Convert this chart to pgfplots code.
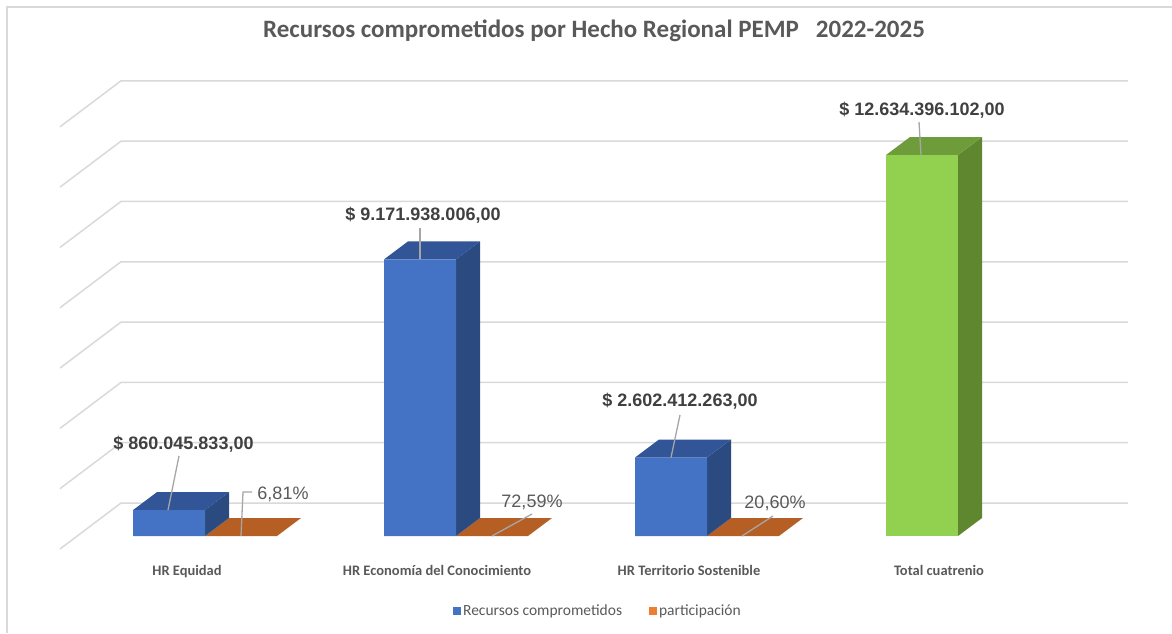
\documentclass[border=0pt]{standalone}
\usepackage{fontspec}
\setmainfont{Carlito}
\newfontfamily\arialfont{Liberation Sans}
\usepackage{pgfplots}
\pgfplotsset{compat=1.18}
\definecolor{blueF}{HTML}{4472C4}
\definecolor{blueS}{HTML}{2A4A80}
\definecolor{blueT}{HTML}{325597}
\definecolor{greenF}{HTML}{92D050}
\definecolor{greenS}{HTML}{5E8730}
\definecolor{greenT}{HTML}{6F9C3A}
\definecolor{orangeF}{HTML}{B55F24}
\definecolor{orangeL}{HTML}{ED7D31}
\definecolor{gridc}{HTML}{D9D9D9}
\definecolor{leader}{HTML}{A6A6A6}
\definecolor{txt}{HTML}{595959}
\definecolor{lbl}{HTML}{404040}
\begin{document}
\begin{tikzpicture}[x=1pt,y=1pt]
\path[use as bounding box] (0,0) rectangle (1172,633);
\draw[gridc,line width=1.5pt] (7,0) -- (7,626) -- (1172,626);
\begin{axis}[
    at={(60pt,97pt)},
    anchor=south west,
    scale only axis,
    width=1068pt,
    height=455pt,
    xmin=60, xmax=1128,
    ymin=0, ymax=15088320975,
    clip=false,
    axis line style={draw=none},
    major tick length=0pt,
    ytick=\empty,
    xtick={187,437,689,939},
    xticklabels={HR Equidad,HR Economía del Conocimiento,HR Territorio Sostenible,Total  cuatrenio},
    xticklabel style={anchor=base,yshift=-39pt,font=\fontsize{14.5}{16}\selectfont\bfseries,text=txt},
    title={Recursos comprometidos por Hecho Regional PEMP\ \ \ 2022-2025},
    title style={at={(axis description cs:0.5,1.0967)},anchor=center,font=\fontsize{25}{28}\selectfont\bfseries,text=txt},
    legend style={at={(axis description cs:0.5037,-0.165)},anchor=center,draw=none,fill=none,
        legend columns=2,font=\fontsize{15.5}{18}\selectfont,text=txt,
        /tikz/every even column/.append style={column sep=25pt}},
    legend image code/.code={\fill[#1] (0pt,-4pt) rectangle (8pt,4pt);},
]
% wall grid, 2e9 steps, shifted for the 3d depth
\addplot[gridc,line width=1.5pt,forget plot,unbounded coords=jump] coordinates {
    (60,-431094885) (121,1094317785) (1128,1094317785) (60,nan)
    (60,1568905115) (121,3094317785) (1128,3094317785) (60,nan)
    (60,3568905115) (121,5094317785) (1128,5094317785) (60,nan)
    (60,5568905115) (121,7094317785) (1128,7094317785) (60,nan)
    (60,7568905115) (121,9094317785) (1128,9094317785) (60,nan)
    (60,9568905115) (121,11094317785) (1128,11094317785) (60,nan)
    (60,11568905115) (121,13094317785) (1128,13094317785) (60,nan)
    (60,13568905115) (121,15094317785) (1128,15094317785)
};
% participacion, flat on the floor
\addplot[fill=orangeF,draw=none,forget plot] coordinates {(205,0) (277,0) (301,596900610) (229,596900610)} -- cycle;
\addplot[fill=orangeF,draw=none,forget plot] coordinates {(456,0) (528,0) (552,596900610) (480,596900610)} -- cycle;
\addplot[fill=orangeF,draw=none,forget plot] coordinates {(707,0) (779,0) (803,596900610) (731,596900610)} -- cycle;
% side faces
\addplot[fill=blueS,draw=none,forget plot] coordinates {(205,0) (229,596900610) (229,1456946443) (205,860045833)} -- cycle;
\addplot[fill=blueS,draw=none,forget plot] coordinates {(456,0) (480,596900610) (480,9768838616) (456,9171938006)} -- cycle;
\addplot[fill=blueS,draw=none,forget plot] coordinates {(707,0) (731,596900610) (731,3199312873) (707,2602412263)} -- cycle;
\addplot[fill=greenS,draw=none,forget plot] coordinates {(958,0) (982,596900610) (982,13231296712) (958,12634396102)} -- cycle;
% top faces
\addplot[fill=blueT,draw=none,forget plot] coordinates {(133,860045833) (205,860045833) (229,1456946443) (157,1456946443)} -- cycle;
\addplot[fill=blueT,draw=none,forget plot] coordinates {(384,9171938006) (456,9171938006) (480,9768838616) (408,9768838616)} -- cycle;
\addplot[fill=blueT,draw=none,forget plot] coordinates {(635,2602412263) (707,2602412263) (731,3199312873) (659,3199312873)} -- cycle;
\addplot[fill=greenT,draw=none,forget plot] coordinates {(886,12634396102) (958,12634396102) (982,13231296712) (910,13231296712)} -- cycle;
% front faces
\addplot[ybar,bar width=72pt,bar shift=0pt,fill=blueF,draw=none,forget plot] coordinates {(169,860045833) (420,9171938006) (671,2602412263)};
\addplot[ybar,bar width=72pt,bar shift=0pt,fill=greenF,draw=none,forget plot] coordinates {(922,12634396102)};
% leader lines
\addplot[leader,line width=1.3pt,forget plot] coordinates {(168,860045833) (179,2652891600)};
\addplot[leader,line width=1.3pt,forget plot] coordinates {(420,9171938006) (420,10213632660)};
\addplot[leader,line width=1.3pt,forget plot] coordinates {(671,2602412263) (680,4012498545)};
\addplot[leader,line width=1.3pt,forget plot] coordinates {(921,12634396102) (919,13728714030)};
\addplot[leader,line width=1.3pt,forget plot] coordinates {(241,0) (243,1459090380) (252,1459090380)};
\addplot[leader,line width=1.3pt,forget plot] coordinates {(492,0) (532,729545190)};
\addplot[leader,line width=1.3pt,forget plot] coordinates {(742,0) (773,663222900)};
% legend
\addlegendimage{fill=blueF,draw=none}
\addlegendentry{Recursos comprometidos}
\addlegendimage{fill=orangeL,draw=none}
\addlegendentry{participación}
% data labels
\tikzset{vallbl/.style={font=\arialfont\fontsize{18}{20}\selectfont\bfseries,text=lbl,inner sep=0pt},
         pctlbl/.style={font=\arialfont\fontsize{18}{20}\selectfont,text=txt,inner sep=0pt}}
\node[vallbl] at (axis cs:183.5,3050825340) {\$ 860.045.833,00};
\node[vallbl] at (axis cs:423,10644727545) {\$ 9.171.938.006,00};
\node[vallbl] at (axis cs:680,4476754575) {\$ 2.602.412.263,00};
\node[vallbl] at (axis cs:922,14126647770) {\$ 12.634.396.102,00};
\node[pctlbl] at (axis cs:283,1392768090) {6,81\%};
\node[pctlbl] at (axis cs:532,1127478930) {72,59\%};
\node[pctlbl] at (axis cs:775,1094317785) {20,60\%};
\end{axis}
\end{tikzpicture}
\end{document}
